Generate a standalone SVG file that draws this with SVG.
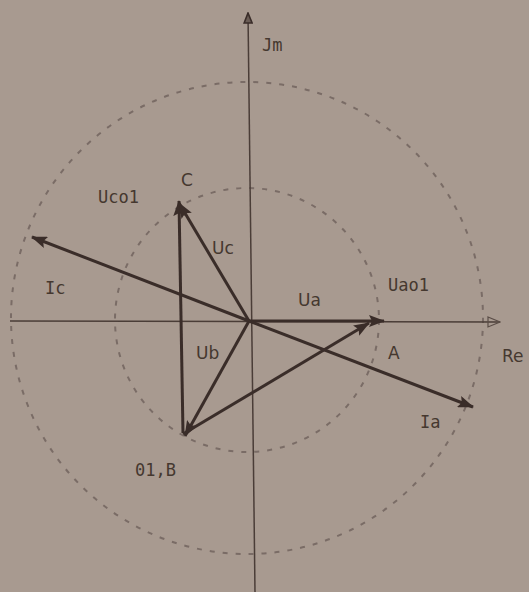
<svg xmlns="http://www.w3.org/2000/svg" width="529" height="592" viewBox="0 0 529 592">
<defs>
<style>
.t{font-family:"DejaVu Sans Mono","Liberation Mono",monospace;font-size:17px;fill:#45382f}
.s{font-family:"DejaVu Sans","Liberation Sans",sans-serif;font-size:17px;fill:#45382f}
.v{stroke:#3a2d29;stroke-width:3;fill:none}
.ax{stroke:#4a3d37;stroke-width:1.5;fill:none}
.c{stroke:#7a6c66;stroke-width:2;stroke-dasharray:5,8;fill:none}
</style>
<marker id="big" viewBox="0 0 16 12" refX="15" refY="6" markerWidth="16" markerHeight="12" orient="auto" markerUnits="userSpaceOnUse">
<path d="M0,0 L16,6 L0,12 L3,6 Z" fill="#3a2d29"/>
</marker>
<marker id="hol" viewBox="0 0 14 12" refX="13" refY="6" markerWidth="14" markerHeight="12" orient="auto" markerUnits="userSpaceOnUse">
<path d="M1,1 L13,6 L1,11 Z" fill="none" stroke="#5a4d47" stroke-width="1.2"/>
</marker>
<marker id="vt" viewBox="0 0 12 10" refX="11" refY="5" markerWidth="12" markerHeight="10" orient="auto" markerUnits="userSpaceOnUse">
<path d="M1,1 L11,5 L1,9 Z" fill="#6a5c55" stroke="#3a2d29" stroke-width="1.6"/>
</marker>
</defs>
<rect width="529" height="592" fill="#a89a90"/>
<g id="circles">
<circle class="c" cx="247" cy="318" r="236"/>
<circle class="c" cx="247" cy="320" r="132"/>
</g>
<g id="axes">
<line class="ax" x1="10" y1="321" x2="500" y2="322" marker-end="url(#hol)"/>
<line class="ax" x1="255" y1="592" x2="248" y2="13" marker-end="url(#vt)"/>
</g>
<g id="connectors">
<line class="v" x1="249" y1="321" x2="384" y2="321" marker-end="url(#big)"/>
<line class="v" x1="249" y1="321" x2="185" y2="436" marker-end="url(#big)"/>
<line class="v" x1="183" y1="433" x2="179" y2="201" marker-end="url(#big)"/>
<line class="v" x1="249" y1="321" x2="179" y2="203" marker-end="url(#big)"/>
<line class="v" x1="183" y1="434" x2="369" y2="323" marker-end="url(#big)"/>
<line class="v" x1="249" y1="321" x2="32" y2="237" marker-end="url(#big)"/>
<line class="v" x1="249" y1="321" x2="473" y2="407" marker-end="url(#big)"/>
</g>
<g id="labels">
<text class="t" x="262" y="51">Jm</text>
<text class="s" x="181" y="186">C</text>
<text class="t" x="98" y="203">Uco1</text>
<text class="s" x="212" y="254">Uc</text>
<text class="t" x="45" y="294">Ic</text>
<text class="s" x="298" y="306">Ua</text>
<text class="t" x="388" y="291">Uao1</text>
<text class="s" x="388" y="359">A</text>
<text class="s" x="502" y="362">Re</text>
<text class="s" x="196" y="359">Ub</text>
<text class="t" x="420" y="428">Ia</text>
<text class="t" x="135" y="476">01,B</text>
</g>
</svg>
